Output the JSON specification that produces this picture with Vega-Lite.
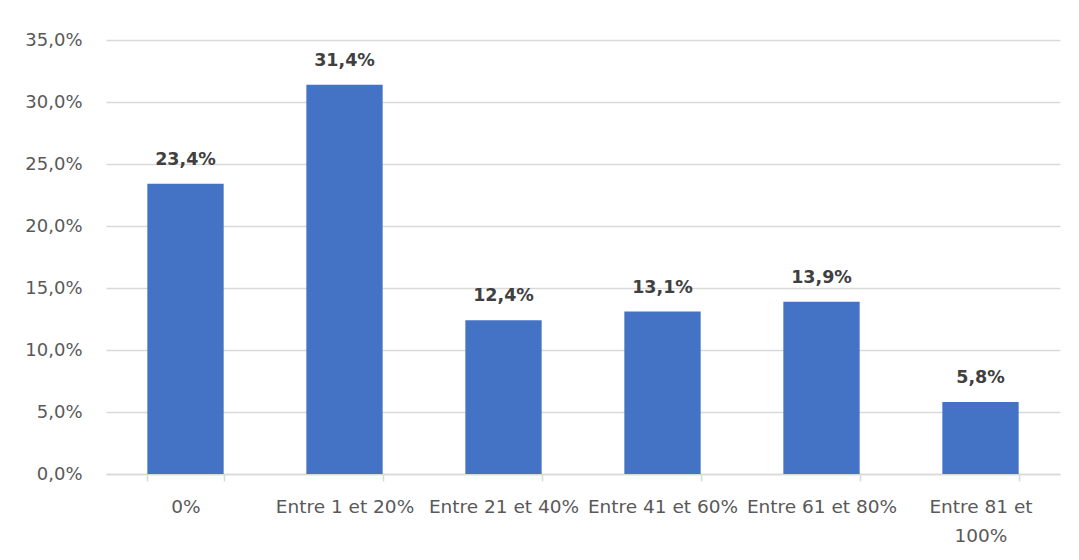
{
  "$schema": "https://vega.github.io/schema/vega-lite/v6.json",
  "width": 954,
  "height": 434,
  "autosize": {"type": "none"},
  "padding": {"left": 106, "top": 40, "right": 19, "bottom": 86},
  "background": "white",
  "config": {
    "view": {"stroke": null},
    "locale": {"number": {"decimal": ",", "thousands": " ", "grouping": [3], "currency": ["", " €"]}},
    "font": "DejaVu Sans"
  },
  "data": {
    "values": [
      {"cat": "0%", "v": 0.234},
      {"cat": "Entre 1 et 20%", "v": 0.314},
      {"cat": "Entre 21 et 40%", "v": 0.124},
      {"cat": "Entre 41 et 60%", "v": 0.131},
      {"cat": "Entre 61 et 80%", "v": 0.139},
      {"cat": "Entre 81 et 100%", "v": 0.058}
    ]
  },
  "encoding": {
    "x": {
      "field": "cat", "type": "nominal", "sort": null,
      "scale": {"paddingInner": 0.52, "paddingOuter": 0.26},
      "axis": {
        "title": null, "labelAngle": 0, "labelFontSize": 18.5, "labelColor": "#595959",
        "labelPadding": 16, "tickBand": "extent", "tickColor": "#d9d9d9", "tickSize": 7,
        "domainColor": "#d9d9d9", "domainWidth": 1.5, "tickWidth": 1.5, "labelOverlap": false, "labelBound": false,
        "labelFont": "DejaVu Sans", "labelLineHeight": 29,
        "labelExpr": "datum.value == 'Entre 81 et 100%' ? ['Entre 81 et', '100%'] : datum.value"
      }
    },
    "y": {
      "field": "v", "type": "quantitative",
      "scale": {"domain": [0, 0.35], "nice": false},
      "axis": {
        "title": null, "format": ".1%", "values": [0, 0.05, 0.1, 0.15, 0.2, 0.25, 0.3, 0.35],
        "domain": false, "ticks": false, "labelFontSize": 18, "labelColor": "#595959",
        "labelPadding": 24, "gridColor": "#d9d9d9", "gridWidth": 1.5, "labelFont": "DejaVu Sans"
      }
    }
  },
  "layer": [
    {"mark": {"type": "bar", "color": "#4472C4"}},
    {
      "mark": {"type": "text", "baseline": "bottom", "dy": -15, "fontWeight": "bold", "fontSize": 17.5, "color": "#404040", "font": "DejaVu Sans"},
      "encoding": {"text": {"field": "v", "type": "quantitative", "format": ".1%"}}
    }
  ]
}
